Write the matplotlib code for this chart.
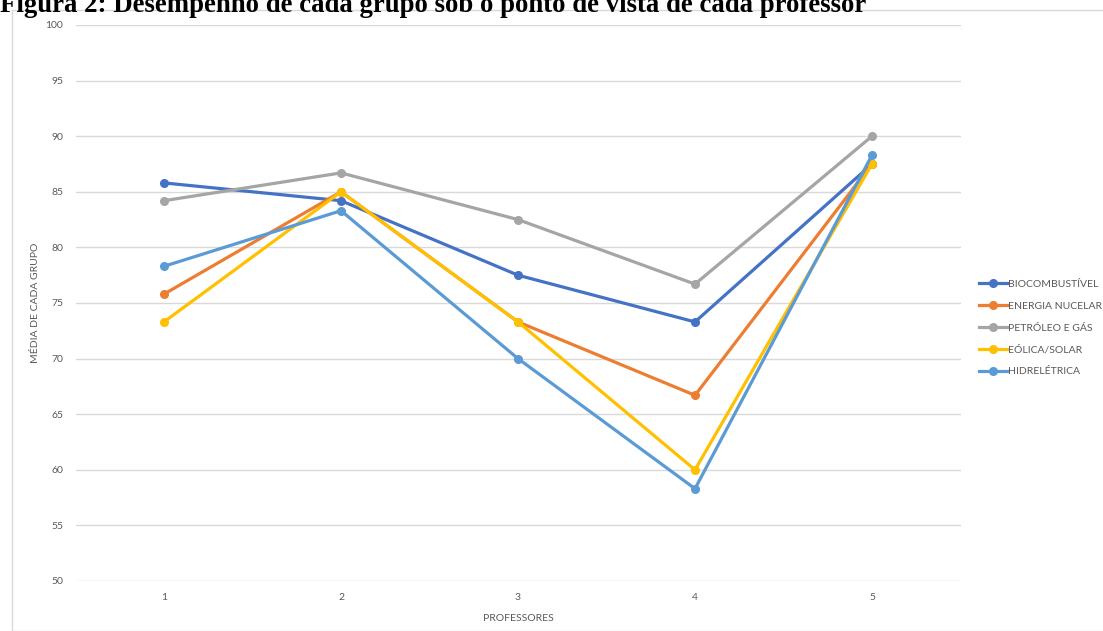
import matplotlib
matplotlib.use("Agg")
import matplotlib.pyplot as plt
from matplotlib.patches import Rectangle

professores = [1, 2, 3, 4, 5]
biocombustivel = [85.8, 84.2, 77.5, 73.3, 87.5]
energia_nuclear = [75.8, 85.0, 73.3, 66.7, 87.5]
petroleo_gas = [84.2, 86.7, 82.5, 76.7, 90.0]
eolica_solar = [73.3, 85.0, 73.3, 60.0, 87.5]
hidreletrica = [78.3, 83.3, 70.0, 58.3, 88.3]

series = [
    ("BIOCOMBUSTÍVEL", biocombustivel, "#4472C4"),
    ("ENERGIA NUCELAR", energia_nuclear, "#ED7D31"),
    ("PETRÓLEO E GÁS", petroleo_gas, "#A5A5A5"),
    ("EÓLICA/SOLAR", eolica_solar, "#FFC000"),
    ("HIDRELÉTRICA", hidreletrica, "#5B9BD5"),
]

plt.rcParams['font.family'] = ['Lato', 'DejaVu Sans']
W, H = 1103, 631
fig = plt.figure(figsize=(W / 100, H / 100), dpi=100)

# chart frame
fig.patches.append(Rectangle((12 / W, 0), 1.2, (H - 10) / H, transform=fig.transFigure,
                             fill=False, edgecolor="#D9D9D9", linewidth=1))

ax = fig.add_axes([75.5 / W, 50 / H, 885 / W, 556 / H])
for name, vals, c in series:
    ax.plot(professores, vals, color=c, linewidth=2.3, marker="o", markersize=5.5, label=name)

ax.set_xlim(0.5, 5.5)
ax.set_ylim(50, 100)
ax.set_yticks(range(50, 101, 5))
ax.set_xticks(professores)
ax.grid(axis="y", color="#D9D9D9", linewidth=1)
ax.set_axisbelow(True)
for s in ax.spines.values():
    s.set_visible(False)
ax.tick_params(length=0, labelsize=7.5, labelcolor="#595959", pad=9)
ax.set_xlabel("PROFESSORES", fontsize=7.5, color="#595959", labelpad=8)
ax.set_ylabel("MÉDIA DE CADA GRUPO", fontsize=7.5, color="#595959", labelpad=4)

leg = ax.legend(loc="center left", bbox_to_anchor=(1.01, 0.455), frameon=False,
                fontsize=7.5, labelspacing=1.2, handlelength=2.7, handletextpad=0.1)
for t in leg.get_texts():
    t.set_color("#595959")

fig.text(0, 1 + 7 / H, "Figura 2: Desempenho de cada grupo sob o ponto de vista de cada professor",
         family="Liberation Serif", fontweight="bold", fontsize=19.3, va="top", ha="left")

fig.savefig("out.png", dpi=100)
